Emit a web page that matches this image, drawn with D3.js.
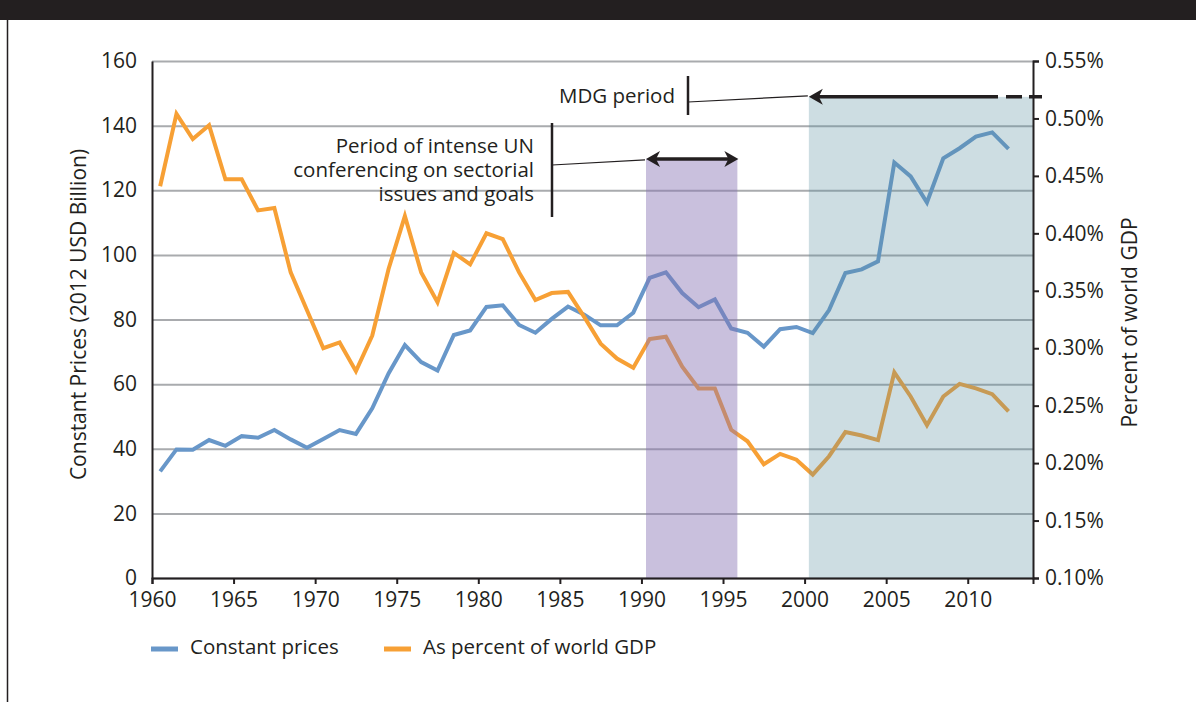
<!DOCTYPE html>
<html>
<head>
<meta charset="utf-8">
<script src="https://cdn.jsdelivr.net/npm/d3@7"></script>
<style>
    body { margin: 0; background: #ffffff; }
    svg text { font-family: "Open Sans", sans-serif; fill: #231f20; }
</style>
</head>
<body>
<svg id="drawing_region"></svg>
<script>
// years shown on the category axis
const years = [1960, 1961, 1962, 1963, 1964, 1965, 1966, 1967, 1968, 1969,
               1970, 1971, 1972, 1973, 1974, 1975, 1976, 1977, 1978, 1979,
               1980, 1981, 1982, 1983, 1984, 1985, 1986, 1987, 1988, 1989,
               1990, 1991, 1992, 1993, 1994, 1995, 1996, 1997, 1998, 1999,
               2000, 2001, 2002, 2003, 2004, 2005, 2006, 2007, 2008, 2009,
               2010, 2011, 2012];

// Constant prices (2012 USD billion), left axis
const constantPrices = [33.0, 39.8, 39.7, 42.7, 40.9, 43.9, 43.4, 45.8, 42.9, 40.3,
                        43.0, 45.8, 44.6, 52.5, 63.3, 72.1, 66.8, 64.2, 75.2, 76.6,
                        83.9, 84.4, 78.3, 75.9, 80.2, 84.0, 81.5, 78.2, 78.2, 82.1,
                        92.9, 94.6, 88.2, 83.8, 86.2, 77.2, 75.9, 71.6, 77.0, 77.7,
                        75.8, 82.9, 94.4, 95.5, 98.0, 128.6, 124.3, 116.2, 129.9, 133.0,
                        136.6, 137.9, 132.8];

// As percent of world GDP, right axis
const pctWorldGdp = [0.441, 0.504, 0.482, 0.494, 0.447, 0.447, 0.420, 0.422, 0.366, 0.333,
                     0.300, 0.305, 0.280, 0.311, 0.369, 0.415, 0.366, 0.340, 0.383, 0.373,
                     0.400, 0.395, 0.366, 0.342, 0.348, 0.349, 0.327, 0.304, 0.291, 0.283,
                     0.308, 0.310, 0.284, 0.265, 0.265, 0.229, 0.219, 0.199, 0.208, 0.203,
                     0.190, 0.206, 0.227, 0.224, 0.220, 0.279, 0.258, 0.233, 0.258, 0.269,
                     0.265, 0.260, 0.245];

const xTicks = [1960, 1965, 1970, 1975, 1980, 1985, 1990, 1995, 2000, 2005, 2010];
const leftTicks = [0, 20, 40, 60, 80, 100, 120, 140, 160];
const rightTicks = [0.10, 0.15, 0.20, 0.25, 0.30, 0.35, 0.40, 0.45, 0.50, 0.55];

// shaded periods [start, end] in years
const unPeriod = [1990.28, 1995.88];
const mdgPeriod = [2000.26, 2014];

const seriesNames = ['Constant prices', 'As percent of world GDP'];

const config = {
    parent: '#drawing_region',
    width: 1196,
    height: 702,
    margin: {top: 61, right: 163, bottom: 124, left: 152},
    colors: ['#6897c9', '#f7a035'],
    fontSize: '20.5px',
    ylabel: 'Constant Prices (2012 USD Billion)',
    y2label: 'Percent of world GDP'
};

const svg = d3.select(config.parent)
    .attr('width', config.width)
    .attr('height', config.height);

const inner_width = config.width - config.margin.left - config.margin.right;
const inner_height = config.height - config.margin.top - config.margin.bottom;

// page frame
svg.append('rect')
    .attr('x', 0).attr('y', 0)
    .attr('width', config.width).attr('height', 20)
    .attr('fill', '#231f20');
svg.append('line')
    .attr('x1', 7.5).attr('x2', 7.5)
    .attr('y1', 20).attr('y2', config.height)
    .attr('stroke', '#231f20').attr('stroke-width', 1.5);

const chart = svg.append('g')
    .attr('transform', `translate(${config.margin.left}, ${config.margin.top})`);

const xscale = d3.scaleLinear().domain([1960, 2014]).range([0, inner_width]);
const yscale = d3.scaleLinear().domain([0, 160]).range([inner_height, 0]);
const y2scale = d3.scaleLinear().domain([0.10, 0.55]).range([inner_height, 0]);

// gridlines
chart.append('g')
    .call(d3.axisLeft(yscale).tickValues(leftTicks).tickSize(-inner_width).tickFormat(''))
    .call(g => g.select('.domain').remove())
    .call(g => g.selectAll('line').attr('stroke', '#a9abae').attr('stroke-width', 2));

// series lines, point sits in the middle of its year
const data = years.map((yr, i) => ({year: yr, cp: constantPrices[i], pct: pctWorldGdp[i]}));

const line1 = d3.line().x(d => xscale(d.year + 0.5)).y(d => yscale(d.cp));
const line2 = d3.line().x(d => xscale(d.year + 0.5)).y(d => y2scale(d.pct));

chart.append('path')
    .datum(data)
    .attr('d', line1)
    .attr('fill', 'none')
    .attr('stroke', config.colors[0])
    .attr('stroke-width', 4)
    .attr('stroke-linejoin', 'miter');

chart.append('path')
    .datum(data)
    .attr('d', line2)
    .attr('fill', 'none')
    .attr('stroke', config.colors[1])
    .attr('stroke-width', 4)
    .attr('stroke-linejoin', 'miter');

// shaded periods over the lines
const unTop = yscale(129.7);
const mdgTop = yscale(148.9);

chart.append('rect')
    .attr('x', xscale(unPeriod[0]))
    .attr('width', xscale(unPeriod[1]) - xscale(unPeriod[0]))
    .attr('y', unTop)
    .attr('height', inner_height - unTop)
    .attr('fill', 'rgb(135,115,179)')
    .attr('fill-opacity', 0.45);

chart.append('rect')
    .attr('x', xscale(mdgPeriod[0]))
    .attr('width', xscale(mdgPeriod[1]) - xscale(mdgPeriod[0]))
    .attr('y', mdgTop)
    .attr('height', inner_height - mdgTop)
    .attr('fill', 'rgb(88,142,158)')
    .attr('fill-opacity', 0.3);

// axes
const xaxis_group = chart.append('g')
    .attr('transform', `translate(0, ${inner_height})`)
    .call(d3.axisBottom(xscale).tickValues(xTicks).tickSize(6).tickPadding(5).tickFormat(d3.format('d')));

const yaxis_group = chart.append('g')
    .call(d3.axisLeft(yscale).tickValues(leftTicks).tickSize(0).tickPadding(15));

const y2axis_group = chart.append('g')
    .attr('transform', `translate(${inner_width}, 0)`)
    .call(d3.axisRight(y2scale).tickValues(rightTicks).tickSize(6).tickPadding(6)
        .tickFormat(d => d.toFixed(2) + '%'));

[xaxis_group, yaxis_group, y2axis_group].forEach(g => {
    g.select('.domain').attr('stroke', '#231f20').attr('stroke-width', 2);
    g.selectAll('.tick line').attr('stroke', '#231f20').attr('stroke-width', 2);
    g.selectAll('.tick text')
        .style('font-family', '"Open Sans", sans-serif')
        .style('font-size', '21px')
        .attr('fill', '#231f20');
});
xaxis_group.selectAll('.tick text').attr('dy', '0.85em');

// axis titles
svg.append('text')
    .attr('transform', `translate(80, ${config.margin.top + inner_height / 2 - 5}) rotate(-90)`)
    .attr('text-anchor', 'middle')
    .attr('dominant-baseline', 'middle')
    .style('font-size', '21px')
    .text(config.ylabel);

svg.append('text')
    .attr('transform', `translate(1131, ${config.margin.top + inner_height / 2 + 3}) rotate(-90)`)
    .attr('text-anchor', 'middle')
    .attr('dominant-baseline', 'middle')
    .style('font-size', '21px')
    .text(config.y2label);

// annotations
const ink = '#231f20';

function arrowHead(g, x, y, dir) {
    // dir = -1 points left, +1 points right
    const L = 14, W = 8, N = 10;
    g.append('path')
        .attr('d', `M${x},${y} L${x - dir * L},${y - W} L${x - dir * N},${y} L${x - dir * L},${y + W} Z`)
        .attr('fill', ink);
}

const ann = chart.append('g');

// MDG period
const mdgX = xscale(mdgPeriod[0]);
ann.append('line')
    .attr('x1', mdgX + 8).attr('x2', 846)
    .attr('y1', mdgTop).attr('y2', mdgTop)
    .attr('stroke', ink).attr('stroke-width', 3.5);
ann.append('line')
    .attr('x1', 846).attr('x2', inner_width + 9)
    .attr('y1', mdgTop).attr('y2', mdgTop)
    .attr('stroke', ink).attr('stroke-width', 3.5)
    .attr('stroke-dasharray', '0,8,16,7,16');
arrowHead(ann, mdgX, mdgTop, -1);

const mdgTickX = 536;
ann.append('line')
    .attr('x1', mdgTickX).attr('x2', mdgTickX)
    .attr('y1', 15).attr('y2', 54)
    .attr('stroke', ink).attr('stroke-width', 2.5);
ann.append('line')
    .attr('x1', mdgTickX).attr('x2', mdgX - 1)
    .attr('y1', 41).attr('y2', mdgTop - 1)
    .attr('stroke', ink).attr('stroke-width', 1.2);
ann.append('text')
    .attr('x', mdgTickX - 13).attr('y', 42)
    .attr('text-anchor', 'end')
    .style('font-size', config.fontSize)
    .text('MDG period');

// UN conferencing period
const unX0 = xscale(unPeriod[0]);
const unX1 = xscale(unPeriod[1]);
ann.append('line')
    .attr('x1', unX0 + 8).attr('x2', unX1 - 8)
    .attr('y1', unTop).attr('y2', unTop)
    .attr('stroke', ink).attr('stroke-width', 3.5);
arrowHead(ann, unX0, unTop, -1);
arrowHead(ann, unX1 + 1, unTop, 1);

const unTickX = 400;
ann.append('line')
    .attr('x1', unTickX).attr('x2', unTickX)
    .attr('y1', 62).attr('y2', 156)
    .attr('stroke', ink).attr('stroke-width', 2.5);
ann.append('line')
    .attr('x1', unTickX).attr('x2', unX0 - 1)
    .attr('y1', 104).attr('y2', unTop + 1)
    .attr('stroke', ink).attr('stroke-width', 1.2);

const unLines = ['Period of intense UN', 'conferencing on sectorial', 'issues and goals'];
unLines.forEach((t, i) => {
    ann.append('text')
        .attr('x', unTickX - 18)
        .attr('y', 92 + i * 24)
        .attr('text-anchor', 'end')
        .style('font-size', config.fontSize)
        .text(t);
});

// legend
const legend = svg.append('g')
    .attr('transform', 'translate(151, 649)');
const legendX = [0, 233];
seriesNames.forEach((name, i) => {
    legend.append('line')
        .attr('x1', legendX[i]).attr('x2', legendX[i] + 27)
        .attr('y1', 0).attr('y2', 0)
        .attr('stroke', config.colors[i]).attr('stroke-width', 5);
    legend.append('text')
        .attr('x', legendX[i] + 39).attr('y', 0)
        .attr('dominant-baseline', 'middle')
        .style('font-size', config.fontSize)
        .text(name);
});
</script>
</body>
</html>
